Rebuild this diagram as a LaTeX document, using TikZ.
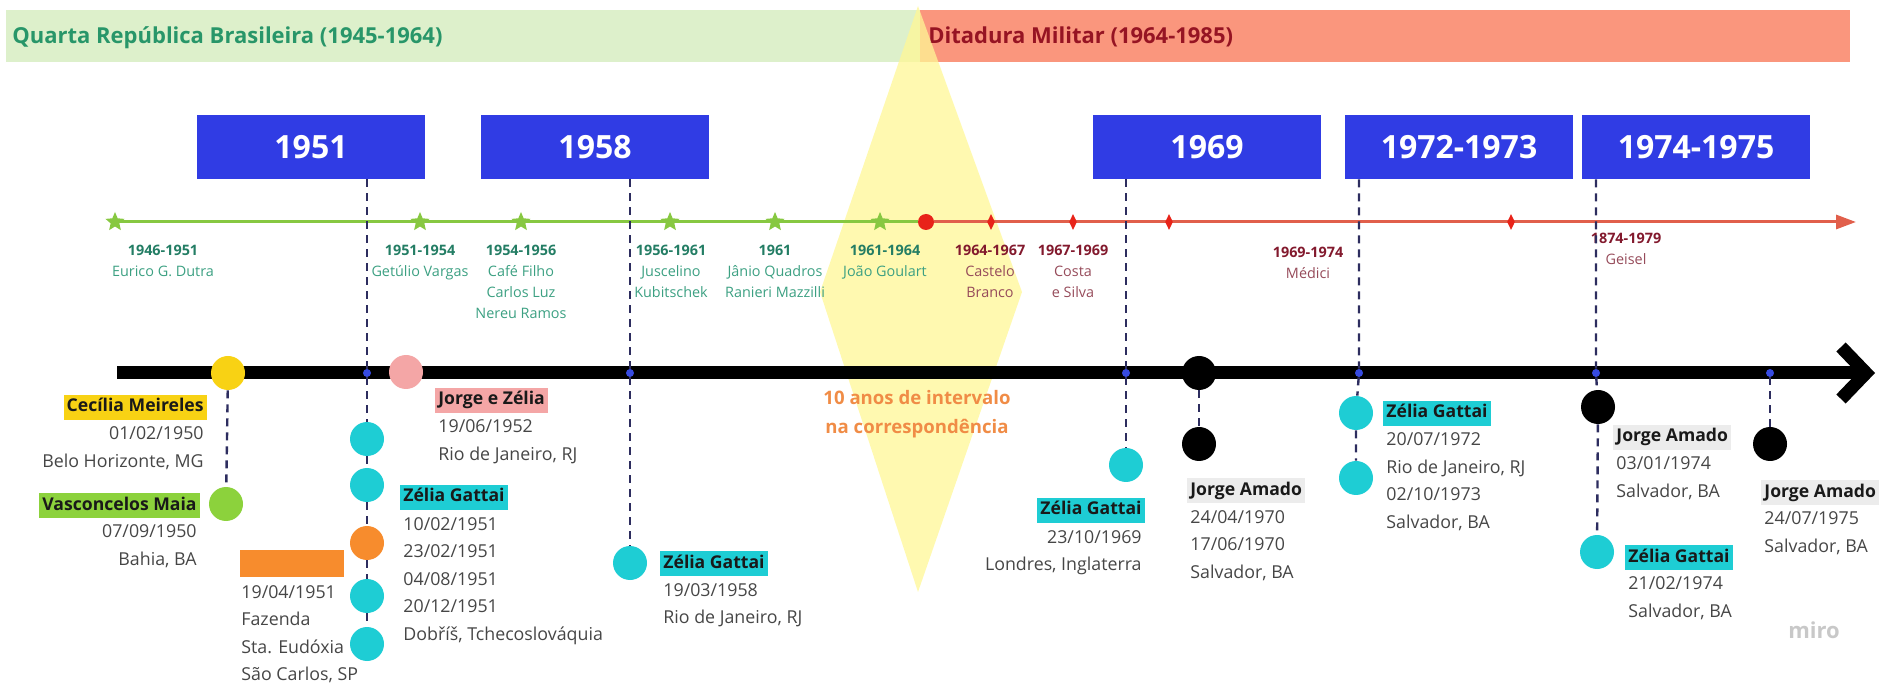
\documentclass[tikz,border=0pt]{standalone}
\usepackage{fontspec}
\setmainfont{Open Sans}
\usepackage{tikz}
\usetikzlibrary{shapes.geometric,arrows.meta}

\definecolor{bandgreen}{RGB}{221,240,203}
\definecolor{bandred}{RGB}{250,150,125}
\definecolor{titlegreen}{RGB}{40,150,105}
\definecolor{titlered}{RGB}{150,20,35}
\definecolor{boxblue}{RGB}{48,60,228}
\definecolor{linegreen}{RGB}{135,200,65}
\definecolor{linered}{RGB}{225,95,75}
\definecolor{dotred}{RGB}{232,35,25}
\definecolor{pgreen}{RGB}{35,125,100}
\definecolor{pgname}{RGB}{60,160,130}
\definecolor{pred}{RGB}{130,25,45}
\definecolor{prname}{RGB}{150,75,90}
\definecolor{zcyan}{RGB}{30,205,212}
\definecolor{cyellow}{RGB}{248,210,20}
\definecolor{vgreen}{RGB}{140,210,60}
\definecolor{jzpink}{RGB}{244,166,166}
\definecolor{forange}{RGB}{247,140,45}
\definecolor{kiteyellow}{RGB}{255,247,150}
\definecolor{dategray}{RGB}{70,70,70}
\definecolor{nameblack}{RGB}{25,25,25}
\definecolor{jagray}{RGB}{236,236,236}
\definecolor{dashnavy}{RGB}{45,45,95}
\definecolor{dotblue}{RGB}{55,75,225}
\definecolor{notetext}{RGB}{240,140,70}
\definecolor{mirogray}{RGB}{200,200,200}

\newcommand{\gyr}[1]{{\bfseries\color{pgreen}#1}}
\newcommand{\ryr}[1]{{\bfseries\color{pred}#1}}

\begin{document}
\begin{tikzpicture}[x=0.5pt,y=-0.5pt,
  yearbox/.style={fill=boxblue,text=white,minimum width=114pt,minimum height=32pt,inner sep=0pt,font=\fontsize{16}{18}\selectfont\bfseries},
  bandtitle/.style={anchor=base west,inner sep=0pt,font=\fontsize{11}{12}\selectfont\bfseries},
  pstar/.style={star,star points=5,star point ratio=2.2,fill=linegreen,minimum size=10pt,inner sep=0pt},
  pdiam/.style={diamond,aspect=0.5,fill=dotred,minimum width=4pt,minimum height=8pt,inner sep=0pt},
  gper/.style={align=center,anchor=base,inner sep=0pt,text=pgname,font=\fontsize{7.2}{10.5}\selectfont},
  rper/.style={gper,text=prname},
  axdot/.style={circle,fill=dotblue,minimum size=4pt,inner sep=0pt},
  pin/.style={circle,minimum size=17pt,inner sep=0pt},
  link/.style={dashnavy,line width=1.2pt,dash pattern=on 4pt off 3pt},
  who/.style={anchor=base west,inner xsep=1.5pt,inner ysep=1.6pt,text height=7pt,text depth=2.2pt,text=nameblack,font=\fontsize{8.8}{10}\selectfont\bfseries},
  dates/.style={align=left,anchor=base west,inner sep=0pt,text=dategray,font=\fontsize{8.9}{13.75}\selectfont},
  rdates/.style={dates,align=right,anchor=base east}]
\useasboundingbox (0,0) rectangle (1899,683);

% periodos
\fill[bandgreen] (6,10) rectangle (920,62);
\fill[bandred] (920,10) rectangle (1850,62);
\node[bandtitle,text=titlegreen] (qrb) at (12,44) {Quarta República Brasileira (1945-1964)};
\node[bandtitle,text=titlered] (dm) at (928,44) {Ditadura Militar (1964-1985)};

% intervalo
\fill[kiteyellow,opacity=0.75] (918,6) -- (1022,292) -- (918,592) -- (820,292) -- cycle;

% anos
\node[yearbox] (b51) at (311,147) {1951};
\node[yearbox] (b58) at (595,147) {1958};
\node[yearbox] (b69) at (1207,147) {1969};
\node[yearbox] (b72) at (1459,147) {1972-1973};
\node[yearbox] (b74) at (1696,147) {1974-1975};

% presidentes (ancora na ultima linha)
\coordinate (gl0) at (115,222);
\coordinate (rlend) at (1856,222);
\node[circle,fill=dotred,minimum size=8pt,inner sep=0pt] (r64) at (926,222) {};
\draw[linegreen,line width=1.5pt] (gl0) -- (r64);
\draw[linered,line width=1.5pt,-{Triangle[length=10pt,width=7pt]}] (r64) -- (rlend);
\foreach \x/\n in {115/s46,420/s51,521/s54,670/s56,775/s61,880/s61b}
  \node[pstar] (\n) at (\x,222) {};
\foreach \x/\n in {991/d64,1073/d67,1169/d69,1511/d74}
  \node[pdiam] (\n) at (\x,222) {};

\node[gper] (p46) at (163,277) {\gyr{1946-1951}\\Eurico G. Dutra};
\node[gper] (p51) at (420,277) {\gyr{1951-1954}\\Getúlio Vargas};
\node[gper] (p54) at (521,319) {\gyr{1954-1956}\\Café Filho\\Carlos Luz\\Nereu Ramos};
\node[gper] (p56) at (671,298) {\gyr{1956-1961}\\Juscelino\\Kubitschek};
\node[gper] (p61) at (775,298) {\gyr{1961}\\Jânio Quadros\\Ranieri Mazzilli};
\node[gper] (p61b) at (885,277) {\gyr{1961-1964}\\João Goulart};
\node[rper] (p64) at (990,298) {\ryr{1964-1967}\\Castelo\\Branco};
\node[rper] (p67) at (1073,298) {\ryr{1967-1969}\\Costa\\e Silva};
\node[rper] (p69) at (1308,279) {\ryr{1969-1974}\\Médici};
\node[rper] (p74) at (1626,265) {\ryr{1874-1979}\\Geisel};

% linha do tempo
\coordinate (axstart) at (117,373);
\coordinate (axtip) at (1866,373);
\draw[line width=6.5pt] (axstart) -- (axtip);
\draw[line width=6.5pt,line join=miter] (1841,347) -- (axtip) -- (1841,399);

\node[axdot] (a51) at (367,373) {};
\node[axdot] (a58) at (630,373) {};
\node[axdot] (a69) at (1126,373) {};
\node[axdot] (a72) at (1359,373) {};
\node[axdot] (a74) at (1596,373) {};
\node[axdot] (a75) at (1770,373) {};

% cartas
\node[pin,fill=cyellow] (cm) at (228,373) {};
\node[pin,fill=vgreen] (vm) at (226,504) {};
\node[pin,fill=jzpink] (jz) at (406,372) {};
\node[pin,fill=zcyan] (z51a) at (367,439) {};
\node[pin,fill=zcyan] (z51b) at (367,485) {};
\node[pin,fill=forange] (f51) at (367,543) {};
\node[pin,fill=zcyan] (z51c) at (367,596) {};
\node[pin,fill=zcyan] (z51d) at (367,644) {};
\node[pin,fill=zcyan] (z58) at (630,563) {};
\node[pin,fill=zcyan] (z69) at (1126,465) {};
\node[pin,fill=black] (ja70a) at (1199,373) {};
\node[pin,fill=black] (ja70b) at (1199,444) {};
\node[pin,fill=zcyan] (z72a) at (1356,413) {};
\node[pin,fill=zcyan] (z72b) at (1356,478) {};
\node[pin,fill=black] (ja74) at (1598,407) {};
\node[pin,fill=zcyan] (z74) at (1597,552) {};
\node[pin,fill=black] (ja75) at (1770,444) {};

\draw[link] (a51 |- b51.south) -- (a51) -- (z51a) -- (z51b) -- (f51) -- (z51c) -- (z51d);
\draw[link] (a58 |- b58.south) -- (a58) -- (z58);
\draw[link] (a69 |- b69.south) -- (a69) -- (z69);
\draw[link] (a72 |- b72.south) -- (a72) -- (z72a) -- (z72b);
\draw[link] (a74 |- b74.south) -- (a74) -- (ja74) -- (z74);
\draw[link] (cm) -- (vm);
\draw[link] (ja70a) -- (ja70b);
\draw[link] (a75) -- (ja75);

% nomes e datas (datas ancoradas na ultima linha)
\node[who,fill=cyellow,anchor=base east] (cmname) at (207,412) {Cecília Meireles};
\node[rdates] (cmdates) at (204,467.5) {01/02/1950\\Belo Horizonte, MG};
\node[who,fill=vgreen,anchor=base east] (vmname) at (200,510) {Vasconcelos Maia};
\node[rdates] (vmdates) at (197,565.5) {07/09/1950\\Bahia, BA};
\node[who,fill=jzpink] (jzname) at (435,405) {Jorge e Zélia};
\node[dates] (jzdates) at (438,460.5) {19/06/1952\\Rio de Janeiro, RJ};
\node[who,fill=zcyan] (z51name) at (400,502) {Zélia Gattai};
\node[dates] (z51dates) at (403,640) {10/02/1951\\23/02/1951\\04/08/1951\\20/12/1951\\Dobříš, Tchecoslováquia};
\node[fill=forange,anchor=north west,minimum width=52pt,minimum height=13.5pt,inner sep=0pt] (f51name) at (240,550) {};
\node[dates] (f51dates) at (241,680.5) {19/04/1951\\Fazenda\\Sta. Eudóxia\\São Carlos, SP};
\node[who,fill=zcyan] (z58name) at (660,568) {Zélia Gattai};
\node[dates] (z58dates) at (663,623.5) {19/03/1958\\Rio de Janeiro, RJ};
\node[who,fill=zcyan,anchor=base east] (z69name) at (1145,515) {Zélia Gattai};
\node[rdates] (z69dates) at (1142,570.5) {23/10/1969\\Londres, Inglaterra};
\node[who,fill=jagray] (ja70name) at (1187,495) {Jorge Amado};
\node[dates] (ja70dates) at (1190,578) {24/04/1970\\17/06/1970\\Salvador, BA};
\node[who,fill=zcyan] (z72name) at (1383,418) {Zélia Gattai};
\node[dates] (z72dates) at (1386,528.5) {20/07/1972\\Rio de Janeiro, RJ\\02/10/1973\\Salvador, BA};
\node[who,fill=jagray] (ja74name) at (1613,442) {Jorge Amado};
\node[dates] (ja74dates) at (1616,497.5) {03/01/1974\\Salvador, BA};
\node[who,fill=zcyan] (z74name) at (1625,562) {Zélia Gattai};
\node[dates] (z74dates) at (1628,617.5) {21/02/1974\\Salvador, BA};
\node[who,fill=jagray] (ja75name) at (1761,497) {Jorge Amado};
\node[dates] (ja75dates) at (1764,552.5) {24/07/1975\\Salvador, BA};

\node[align=center,text=notetext,inner sep=0pt,font=\fontsize{9.3}{14.5}\selectfont\bfseries] (gap) at (917,414) {10 anos de intervalo\\na correspondência};
\node[text=mirogray,inner sep=0pt,font=\fontsize{11}{12}\selectfont\bfseries] (miro) at (1814,630) {miro};
\end{tikzpicture}
\end{document}
